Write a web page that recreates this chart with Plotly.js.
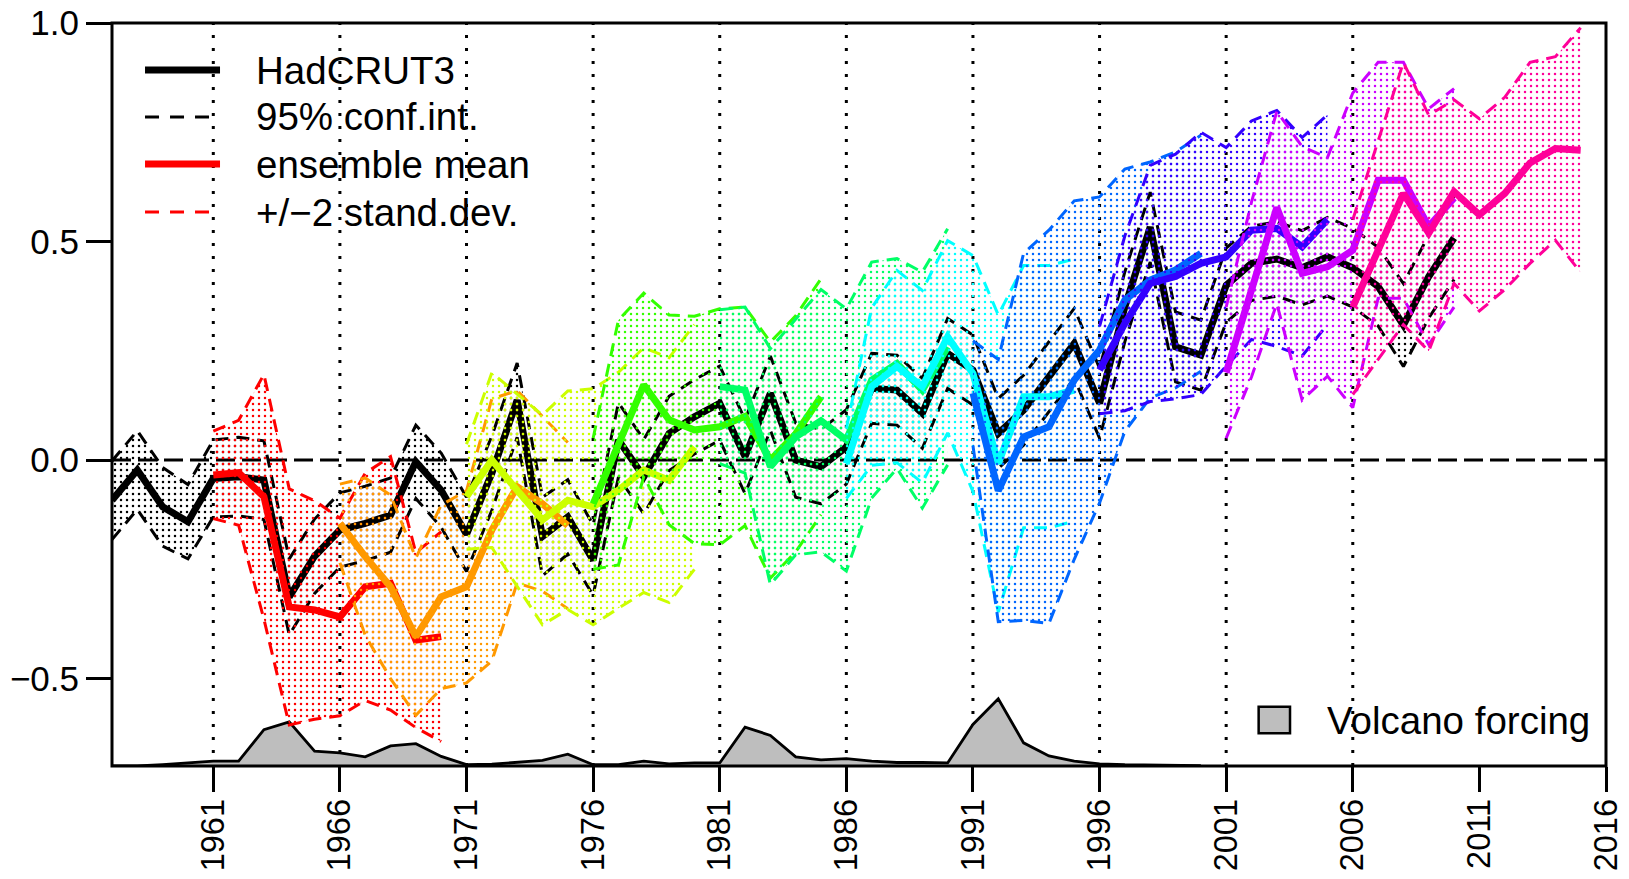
<!DOCTYPE html>
<html>
<head>
<meta charset="utf-8">
<script src="https://cdn.plot.ly/plotly-3.0.1.min.js"></script>
<style>
  html, body { margin: 0; padding: 0; background: #ffffff; }
  #chart { width: 1629px; height: 879px; }
</style>
</head>
<body>
<div id="chart"></div>
<script>
// ---------------- DATA ----------------
const obsYears = [1957,1958,1959,1960,1961,1962,1963,1964,1965,1966,1967,1968,1969,1970,
  1971,1972,1973,1974,1975,1976,1977,1978,1979,1980,1981,1982,1983,1984,1985,1986,1987,1988,1989,1990,
  1991,1992,1993,1994,1995,1996,1997,1998,1999,2000,2001,2002,2003,2004,2005,2006,2007,2008,2009,2010];
const hadcrut3 = [-0.092,-0.023,-0.107,-0.141,-0.042,-0.038,-0.046,-0.313,-0.22,-0.16,-0.145,-0.126,-0.004,-0.069,
  -0.17,-0.03,0.137,-0.175,-0.13,-0.229,0.046,-0.038,0.061,0.099,0.13,0.008,0.153,0.0,-0.015,0.03,0.164,0.16,0.107,0.244,
  0.206,0.061,0.114,0.19,0.267,0.13,0.351,0.533,0.259,0.24,0.40,0.45,0.46,0.44,0.465,0.44,0.397,0.309,0.42,0.508];
// half-width of the 95% confidence interval
const hadcrutCI = [0.09,0.09,0.09,0.085,0.088,0.09,0.09,0.087,0.085,0.085,0.085,0.085,0.084,0.085,
  0.085,0.085,0.085,0.09,0.085,0.08,0.085,0.085,0.085,0.085,0.085,0.085,0.085,0.085,0.085,0.085,0.08,0.08,0.08,0.08,
  0.08,0.08,0.08,0.08,0.08,0.08,0.08,0.08,0.08,0.08,0.085,0.085,0.085,0.085,0.09,0.09,0.09,0.095,0.095,0.095];

const volcanoYears = [1957,1958,1959,1960,1961,1962,1963,1964,1965,1966,1967,1968,1969,1970,
  1971,1972,1973,1974,1975,1976,1977,1978,1979,1980,1981,1982,1983,1984,1985,1986,1987,1988,1989,1990,
  1991,1992,1993,1994,1995,1996,1997,1998,1999,2000];
const volcanoForcing = [0.0,0.0,0.003,0.007,0.011,0.011,0.083,0.101,0.034,0.030,0.021,0.046,0.051,0.022,
  0.003,0.004,0.008,0.013,0.027,0.003,0.003,0.011,0.005,0.007,0.007,0.089,0.070,0.021,0.014,0.017,0.011,0.008,0.008,0.007,
  0.095,0.154,0.053,0.023,0.011,0.005,0.003,0.002,0.001,0.001];

const startYears = [1961,1966,1971,1976,1981,1986,1991,1996,2001,2006];
const ensMean1961 = [-0.034,-0.029,-0.084,-0.336,-0.343,-0.359,-0.29,-0.282,-0.412,-0.404];
const ensSd1961   = [0.05,0.06,0.14,0.135,0.125,0.113,0.13,0.145,0.10,0.12];
const ensMean1966 = [-0.145,-0.221,-0.29,-0.404,-0.313,-0.29,-0.16,-0.061,-0.10,-0.15];
const ensSd1966   = [0.045,0.09,0.105,0.09,0.105,0.11,0.15,0.11,0.10,0.095];
const ensMean1971 = [-0.084,0.0,-0.069,-0.137,-0.092,-0.107,-0.069,-0.023,-0.046,0.03];
const ensSd1971   = [0.06,0.10,0.11,0.12,0.125,0.135,0.135,0.14,0.14,0.14];
const ensMean1976 = [-0.10,0.04,0.172,0.092,0.069,0.076,0.10,0.0,0.06,0.145];
const ensSd1976   = [0.075,0.14,0.105,0.12,0.13,0.135,0.125,0.135,0.135,0.135];
const ensMean1981 = [0.168,0.16,-0.015,0.053,0.09,0.046,0.183,0.221,0.16,0.259];
const ensSd1981   = [0.088,0.095,0.135,0.135,0.15,0.15,0.135,0.12,0.135,0.135];
const ensMean1986 = [-0.008,0.168,0.214,0.168,0.282,0.198,-0.008,0.145,0.145,0.16];
const ensSd1986   = [0.04,0.09,0.11,0.11,0.11,0.135,0.17,0.15,0.15,0.15];
const ensMean1991 = [0.153,-0.07,0.053,0.076,0.183,0.252,0.366,0.412,0.435,0.473];
const ensSd1991   = [0.06,0.15,0.21,0.225,0.205,0.175,0.15,0.135,0.135,0.135];
const ensMean1996 = [0.206,0.313,0.404,0.42,0.45,0.465,0.526,0.53,0.488,0.55];
const ensSd1996   = [0.05,0.10,0.135,0.14,0.15,0.125,0.125,0.135,0.125,0.12];
const ensMean2001 = [0.2,0.39,0.578,0.427,0.442,0.48,0.64,0.64,0.534,0.6];
const ensSd2001   = [0.075,0.10,0.11,0.145,0.125,0.18,0.135,0.135,0.135,0.125];
const ensMean2006 = [0.35,0.48,0.61,0.519,0.614,0.561,0.61,0.68,0.713,0.709];
const ensSd2006   = [0.10,0.125,0.15,0.135,0.105,0.11,0.11,0.115,0.105,0.14];

const xTickYears = [1961,1966,1971,1976,1981,1986,1991,1996,2001,2006,2011,2016];
const yTickValues = [-0.5,0.0,0.5,1.0];
const legendLabels = ['HadCRUT3','95% conf.int.','ensemble mean','+/\u22122 stand.dev.'];
const volcanoLabel = 'Volcano forcing';

// ---------------- STYLE ----------------
const ensColors = ['#FF0000','#FF9900','#CCFF00','#33FF00','#00FF66','#00FFFF','#0066FF','#3300FF','#CC00FF','#FF0099'];
const FONT = 'Liberation Sans, Arial, Helvetica, sans-serif';
const THICK = 7, THIN = 3, BOUND_DASH = '13px,8px';

const ensMeans = [ensMean1961,ensMean1966,ensMean1971,ensMean1976,ensMean1981,ensMean1986,ensMean1991,ensMean1996,ensMean2001,ensMean2006];
const ensSds = [ensSd1961,ensSd1966,ensSd1971,ensSd1976,ensSd1981,ensSd1986,ensSd1991,ensSd1996,ensSd2001,ensSd2006];

function hatch(color) {
  return {shape: '.', fgcolor: color, bgcolor: 'rgba(0,0,0,0)', size: 6, solidity: 0.14, fillmode: 'replace'};
}

const traces = [];
// volcano forcing on base axis (drawn underneath)
traces.push({
  x: volcanoYears, y: volcanoForcing, xaxis: 'x', yaxis: 'y', type: 'scatter', mode: 'lines',
  line: {color: '#000000', width: 2.8}, fill: 'tozeroy', fillcolor: '#BEBEBE',
  showlegend: false, hoverinfo: 'skip'
});
// observations
traces.push({
  x: obsYears, y: hadcrut3.map((v, i) => v - hadcrutCI[i]), yaxis: 'y2', type: 'scatter', mode: 'lines',
  line: {color: '#000000', width: THIN, dash: BOUND_DASH}, showlegend: false, hoverinfo: 'skip'
});
traces.push({
  x: obsYears, y: hadcrut3.map((v, i) => v + hadcrutCI[i]), yaxis: 'y2', type: 'scatter', mode: 'lines',
  line: {color: '#000000', width: THIN, dash: BOUND_DASH}, fill: 'tonexty', fillcolor: 'rgba(0,0,0,0)',
  fillpattern: hatch('#000000'), showlegend: false, hoverinfo: 'skip'
});
traces.push({
  x: obsYears, y: hadcrut3, yaxis: 'y2', type: 'scatter', mode: 'lines',
  line: {color: '#000000', width: THICK}, showlegend: false, name: 'HadCRUT3'
});
// ensembles
startYears.forEach((s, k) => {
  const yrs = ensMeans[k].map((_, i) => s + i);
  const c = ensColors[k];
  traces.push({
    x: yrs, y: ensMeans[k].map((v, i) => v - 2 * ensSds[k][i]), yaxis: 'y2', type: 'scatter', mode: 'lines',
    line: {color: c, width: THIN, dash: BOUND_DASH}, showlegend: false, hoverinfo: 'skip'
  });
  traces.push({
    x: yrs, y: ensMeans[k].map((v, i) => v + 2 * ensSds[k][i]), yaxis: 'y2', type: 'scatter', mode: 'lines',
    line: {color: c, width: THIN, dash: BOUND_DASH}, fill: 'tonexty', fillcolor: 'rgba(0,0,0,0)',
    fillpattern: hatch(c), showlegend: false, hoverinfo: 'skip'
  });
  traces.push({
    x: yrs, y: ensMeans[k], yaxis: 'y2', type: 'scatter', mode: 'lines',
    line: {color: c, width: THICK}, showlegend: false, name: 'start ' + s
  });
});

// ---------------- LAYOUT ----------------
const shapes = [];
startYears.forEach(s => shapes.push({
  type: 'line', xref: 'x', yref: 'paper', x0: s, x1: s, y0: 0, y1: 1, layer: 'below',
  line: {color: '#000000', width: 3, dash: '3px,10px'}
}));
shapes.push({
  type: 'line', xref: 'paper', yref: 'y2', x0: 0, x1: 1, y0: 0, y1: 0, layer: 'below',
  line: {color: '#000000', width: 3, dash: '19px,7px'}
});
shapes.push({
  type: 'rect', xref: 'paper', yref: 'paper', x0: 0, x1: 1, y0: 0, y1: 1, layer: 'above',
  line: {color: '#000000', width: 3}
});
// legend (custom, inside plot area)
const legRowsY = [0.9367, 0.8735, 0.8102, 0.7456];
const legStyles = [
  {color: '#000000', width: THICK},
  {color: '#000000', width: THIN, dash: '14px,11px'},
  {color: '#FF0000', width: THICK},
  {color: '#FF0000', width: THIN, dash: '14px,11px'}
];
legRowsY.forEach((y, i) => shapes.push({
  type: 'line', xref: 'paper', yref: 'paper', x0: 0.0221, x1: 0.0723, y0: y, y1: y, layer: 'above',
  line: legStyles[i]
}));
shapes.push({
  type: 'rect', xref: 'paper', yref: 'paper', x0: 0.7675, x1: 0.7885, y0: 0.044, y1: 0.0798, layer: 'above',
  fillcolor: '#BEBEBE', line: {color: '#000000', width: 2.5}
});
const annotations = legendLabels.map((t, i) => ({
  xref: 'paper', yref: 'paper', x: 0.0948, y: legRowsY[i], text: t, showarrow: false,
  xanchor: 'left', yanchor: 'middle', font: {family: FONT, size: 38.5, color: '#000000'}
}));
annotations.push({
  xref: 'paper', yref: 'paper', x: 0.8119, y: 0.0619, text: volcanoLabel, showarrow: false,
  xanchor: 'left', yanchor: 'middle', font: {family: FONT, size: 38.5, color: '#000000'}
});

const layout = {
  width: 1629, height: 879,
  margin: {l: 112, r: 23, t: 23, b: 113, pad: 0},
  paper_bgcolor: '#ffffff', plot_bgcolor: '#ffffff',
  showlegend: false,
  font: {family: FONT, color: '#000000'},
  xaxis: {
    range: [1957, 2016], tickmode: 'array', tickvals: xTickYears, ticktext: xTickYears.map(String),
    ticks: 'outside', ticklen: 25, tickwidth: 3, tickcolor: '#000000', tickangle: -90,
    ticklabelstandoff: -6,
    tickfont: {family: FONT, size: 32.5, color: '#000000'},
    showgrid: false, zeroline: false, showline: false
  },
  yaxis: {range: [0, 1.7], visible: false, fixedrange: true},
  yaxis2: {
    overlaying: 'y', side: 'left', anchor: 'x', range: [-0.7, 1.0],
    tickmode: 'array', tickvals: yTickValues, tickformat: '.1f',
    ticks: 'outside', ticklen: 25, tickwidth: 3, tickcolor: '#000000',
    tickfont: {family: FONT, size: 35, color: '#000000'},
    showgrid: false, zeroline: false, showline: false
  },
  shapes: shapes,
  annotations: annotations
};

Plotly.newPlot('chart', traces, layout, {staticPlot: true, displayModeBar: false});
</script>
</body>
</html>
